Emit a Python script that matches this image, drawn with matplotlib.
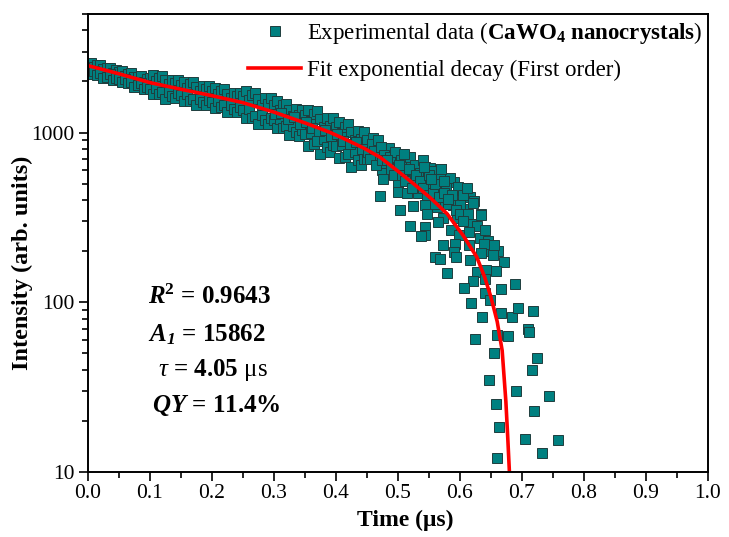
import numpy as np
import matplotlib
matplotlib.use('Agg')
import matplotlib.pyplot as plt

# ---- data ----
# dense part of the decay: one time grid, an upper and a lower row of points
t_band = np.round(np.arange(0.0, 0.4501, 0.005), 3)
i_band_upper = [2530, 2576, 2426, 2495, 2514, 2369, 2390, 2410, 2247, 2335,
                2264, 2304, 2168, 2228, 2243, 2112, 2128, 2144, 1997, 2073,
                2088, 2186, 2012, 2109, 2166, 2034, 1922, 2052, 1961, 2052,
                1908, 1998, 1840, 1928, 1981, 1861, 1759, 1879, 1797, 1880,
                1749, 1830, 1684, 1763, 1810, 1699, 1605, 1713, 1636, 1711,
                1650, 1748, 1550, 1659, 1710, 1576, 1458, 1605, 1476, 1591,
                1452, 1533, 1354, 1446, 1483, 1362, 1256, 1377, 1262, 1355,
                1277, 1366, 1171, 1279, 1343, 1197, 1076, 1218, 1100, 1217,
                1083, 1157, 989, 1079, 1130, 1006, 902, 1019, 918, 1014,
                901]
i_band_lower = [2306, 2208, 2305, 2183, 2230, 2088, 2134, 2203, 2043, 2088,
                2065, 1975, 2060, 1949, 1989, 1861, 1901, 1960, 1815, 1853,
                1812, 1679, 1838, 1687, 1729, 1582, 1735, 1646, 1595, 1707,
                1656, 1534, 1681, 1543, 1582, 1447, 1588, 1507, 1461, 1564,
                1518, 1405, 1538, 1411, 1445, 1321, 1449, 1373, 1330, 1423,
                1350, 1214, 1374, 1227, 1254, 1126, 1278, 1180, 1124, 1217,
                1188, 1065, 1200, 1068, 1088, 973, 1100, 1012, 961, 1036,
                986, 838, 997, 853, 892, 743, 914, 818, 766, 840,
                836, 709, 843, 719, 751, 624, 766, 685, 640, 700,
                695]

# scattered part of the decay (individual points)
t_tail = [0.302, 0.312, 0.322, 0.332, 0.342, 0.352, 0.362, 0.372, 0.382, 0.392,
          0.402, 0.412, 0.422, 0.432, 0.442, 0.452,
          0.460, 0.485, 0.508, 0.466, 0.490, 0.515, 0.544, 0.552, 0.569, 0.474,
          0.476, 0.500, 0.524, 0.531, 0.553, 0.573, 0.590, 0.471, 0.500, 0.515,
          0.532, 0.556, 0.565, 0.582, 0.603, 0.616, 0.623, 0.524, 0.544, 0.563,
          0.589, 0.503, 0.611, 0.634, 0.573, 0.595, 0.560, 0.576, 0.600, 0.621,
          0.458, 0.462, 0.468, 0.472, 0.478, 0.480, 0.487, 0.495, 0.497, 0.505,
          0.512, 0.520, 0.527, 0.535, 0.540, 0.548, 0.558, 0.562, 0.570, 0.578,
          0.584, 0.597, 0.605, 0.612, 0.455, 0.465, 0.475,
          0.482, 0.489, 0.493, 0.502, 0.507, 0.511, 0.518, 0.523, 0.529, 0.536,
          0.541, 0.547, 0.550, 0.557, 0.560, 0.566, 0.574, 0.580, 0.587, 0.593,
          0.600, 0.608, 0.613, 0.620, 0.628, 0.632, 0.645, 0.648, 0.662,
          0.510, 0.542, 0.569, 0.553, 0.575, 0.581, 0.520, 0.544, 0.544, 0.537,
          0.546, 0.565, 0.585, 0.598, 0.605, 0.615, 0.634, 0.640, 0.573, 0.592,
          0.615, 0.639, 0.655, 0.560, 0.568, 0.590, 0.594, 0.616, 0.634, 0.653,
          0.671, 0.579, 0.627, 0.642, 0.658, 0.640, 0.621, 0.606, 0.666, 0.689,
          0.640, 0.648, 0.618, 0.666, 0.684, 0.694, 0.718, 0.635, 0.710,
          0.625, 0.660, 0.677, 0.711, 0.655, 0.724, 0.716, 0.647, 0.690, 0.744,
          0.658, 0.719, 0.663, 0.705, 0.758, 0.732, 0.660]
i_tail = [1290, 1310, 1200, 1230, 1120, 1150, 1060, 1020, 1040, 950,
          975, 890, 860, 880, 800, 770,
          935, 806, 752, 703, 684, 666, 631, 622, 614, 598,
          536, 508, 543, 488, 536, 522, 515, 425, 444, 438,
          438, 469, 481, 404, 456, 415, 393, 367, 372, 362,
          372, 348, 357, 330, 316, 316, 382, 387, 382, 387,
          860, 780, 900, 820, 740, 660, 720, 770, 620, 690,
          600, 720, 640, 580, 690, 560, 590, 530, 560, 470,
          540, 480, 430, 470, 700, 640, 690,
          690, 610, 560, 640, 560, 520, 610, 470, 560, 520,
          470, 430, 560, 440, 500, 420, 440, 380, 430, 350,
          330, 300, 330, 290, 280, 240, 230, 200, 200,
          750, 631, 611, 535, 522, 408, 280, 277, 248, 245,
          333, 296, 265, 248, 303, 258, 325, 268, 219, 222,
          219, 222, 219, 184, 179, 197, 184, 177, 194, 189,
          172, 148, 150, 154, 152, 137, 133, 122, 119, 129,
          113, 103, 99, 87, 82, 93, 89, 82, 70,
          61, 64, 63, 67, 50, 47, 40, 35, 30, 28,
          25, 23, 18.4, 15.6, 15.4, 12.9, 12.1]

# first-order exponential fit curve
fit_t = [0.000, 0.050, 0.100, 0.150, 0.200, 0.250, 0.300, 0.350, 0.390, 0.417,
         0.444, 0.471, 0.498, 0.525, 0.552, 0.579, 0.605, 0.627, 0.640, 0.650,
         0.660, 0.668, 0.674, 0.677, 0.680]
fit_i = [2480, 2220, 1970, 1800, 1650, 1500, 1320, 1140, 1004, 906,
         813, 716, 600, 500, 413, 333, 248, 185, 140, 107,
         77, 52, 26, 16, 9.5]

x_ticks = [0.0, 0.1, 0.2, 0.3, 0.4, 0.5, 0.6, 0.7, 0.8, 0.9, 1.0]
y_ticks = [10, 100, 1000]

# ---- style ----
plt.rcParams.update({
    'font.family': 'Liberation Serif',
    'mathtext.fontset': 'custom',
    'mathtext.rm': 'Liberation Serif',
    'mathtext.it': 'Liberation Serif:italic',
    'mathtext.bf': 'Liberation Serif:bold',
    'mathtext.bfit': 'Liberation Serif:italic:bold',
})

fig = plt.figure(figsize=(7.29, 5.37), dpi=100)
fig.patch.set_facecolor('white')
ax = fig.add_axes([0.1207, 0.121, 0.8505, 0.853])

t_all = np.concatenate([t_band, t_band, t_tail])
i_all = np.concatenate([i_band_upper, i_band_lower, i_tail])

ax.plot(t_all, i_all, ls='none', marker='s', ms=7.2, mfc='#008080',
        mec='#1f3d3d', mew=0.7,
        label=r'Experimental data ($\mathbf{CaWO_4}$ $\mathbf{nanocrystals}$)')
ax.plot(fit_t, fit_i, color='#ff0000', lw=2.6,
        label='Fit exponential decay (First order)')

ax.set_yscale('log')
ax.set_xlim(0.0, 1.0)
ax.set_ylim(10, 5000)
ax.set_xticks(x_ticks)
ax.set_xticklabels(['{:.1f}'.format(v) for v in x_ticks])
ax.set_xticks(np.arange(0.05, 1.0, 0.1), minor=True)
ax.set_yticks(y_ticks)
ax.set_yticklabels([str(v) for v in y_ticks])
ax.yaxis.set_minor_locator(matplotlib.ticker.LogLocator(base=10, subs=range(2, 10)))
ax.yaxis.set_minor_formatter(matplotlib.ticker.NullFormatter())

for sp in ax.spines.values():
    sp.set_linewidth(1.4)
ax.tick_params(which='both', direction='out', width=1.2, labelsize=15.5)
ax.tick_params(which='major', length=6.5)
ax.tick_params(which='minor', length=4.5)
ax.tick_params(axis='x', pad=2)
ax.tick_params(axis='y', pad=3)

ax.set_xlabel(u'Time (\u03bcs)', fontsize=17, fontweight='bold')
ax.set_ylabel('Intensity (arb. units)', fontsize=17.5, fontweight='bold')
ax.xaxis.set_label_coords(0.512, -0.083)
ax.yaxis.set_label_coords(-0.089, 0.456)

leg = ax.legend(loc='upper right', bbox_to_anchor=(1.0, 1.0), frameon=False,
                fontsize=16.5, handlelength=2.3, handletextpad=0.25,
                labelspacing=0.6, borderaxespad=0.0, borderpad=0.25,
                numpoints=1)

txt = dict(transform=ax.transAxes, fontsize=18, fontweight='bold',
           ha='left', va='center')
ax.text(0.097, 0.382, r'$\mathbfit{R}^{\mathbf{2}}$ = 0.9643', **txt)
ax.text(0.097, 0.299, r'$\mathbfit{A}_{\mathbfit{1}}$ = 15862', **txt)
ax.text(0.113, 0.223, u'$\\tau$ = 4.05 $\\mathrm{\u03bcs}$', **txt)
ax.text(0.103, 0.146, r'$\mathbfit{QY}$ = 11.4%', **txt)

fig.savefig('out.png', dpi=100)
